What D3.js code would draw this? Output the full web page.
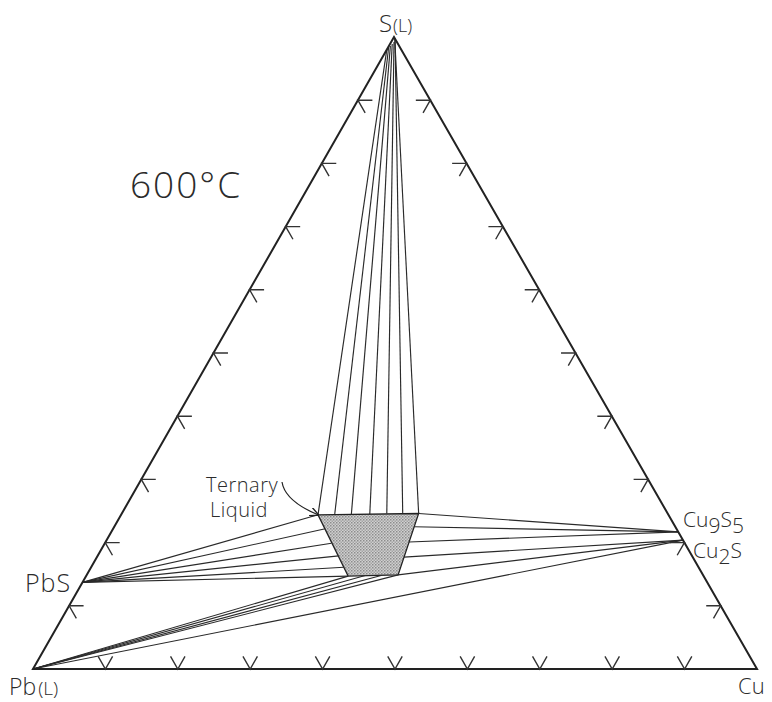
<!DOCTYPE html>
<html>
<head>
<meta charset="utf-8">
<script src="https://cdn.jsdelivr.net/npm/d3@7"></script>
<style>
body { margin: 0; background: #fff; }
svg text { font-family: 'Open Sans', 'DejaVu Sans', sans-serif; font-weight: 300; fill: #2b2b2b; }
</style>
</head>
<body>
<div class="graph-container"></div>
<script>
// all compositions are weight percent, written as [S, Cu]; Pb is the rest
var tickValues = [10, 20, 30, 40, 50, 60, 70, 80, 90];

// phases on the edges
var PbL = [0, 0];
var PbS = [13.7, 0];
var Cu9S5 = [21.7, 78.3];
var Cu2S = [20.4, 79.6];

// corners of the ternary liquid field
var liquidField = [[24.4, 27.2], [24.6, 41.0], [14.9, 43.0], [14.7, 36.2]];

// tie lines S(L) - ternary liquid
var sRichEnds = [[98.0, 0], [98.3, 0.1], [98.6, 0.2], [98.9, 0.3], [99.2, 0.4], [99.5, 0.4], [99.8, 0.2]];
var liquidTopEnds = [[24.4, 27.2], [24.4, 29.5], [24.4, 31.8], [24.5, 34.3], [24.6, 36.6], [24.6, 38.8], [24.6, 41.0]];
// tie lines PbS - liquid
var liquidPbSEnds = [[24.4, 27.2], [22.2, 29.3], [19.9, 31.3], [17.9, 33.3], [16.1, 34.9], [14.7, 36.2]];
// tie lines Cu9S5 / Cu2S - liquid
var liquidCu9S5Ends = [[24.6, 41.0], [22.5, 41.4], [20.1, 41.9]];
var liquidCu2SEnds = [[17.7, 42.4], [14.9, 43.0], [0, 0]];
// tie lines Pb(L) - liquid
var liquidPbEnds = [[14.7, 36.2], [14.8, 38.5], [14.8, 40.7], [14.9, 43.0]];

var svgWidth = 772;
var svgHeight = 702;

// x scale along the Pb-Cu base, y scale for S content
var xScale = d3.scaleLinear().domain([0, 100]).range([33, 757]);
var yScale = d3.scaleLinear().domain([0, 100]).range([669, 37]);
var apexU = xScale.invert(394);

function project(c) {
    return [xScale(c[1] + c[0] * apexU / 100), yScale(c[0])];
}

var line = d3.line().x(function(d) { return project(d)[0]; })
    .y(function(d) { return project(d)[1]; });

var svg = d3.select('.graph-container').append('svg')
    .attr('width', svgWidth)
    .attr('height', svgHeight);

// stippled fill for the liquid field
var defs = svg.append('defs');
var pat = defs.append('pattern')
    .attr('id', 'dots')
    .attr('width', 3).attr('height', 3)
    .attr('patternUnits', 'userSpaceOnUse');
pat.append('rect').attr('width', 3).attr('height', 3).attr('fill', '#d0d0d0');
pat.append('rect').attr('width', 1.5).attr('height', 1.5).attr('fill', '#8c8c8c');
pat.append('rect').attr('x', 1.5).attr('y', 1.5).attr('width', 1.5).attr('height', 1.5).attr('fill', '#a4a4a4');

defs.append('marker')
    .attr('id', 'arrow')
    .attr('viewBox', '0 0 10 10')
    .attr('refX', 9).attr('refY', 5)
    .attr('markerWidth', 9).attr('markerHeight', 9)
    .attr('markerUnits', 'userSpaceOnUse')
    .attr('orient', 'auto')
    .append('path')
    .attr('d', 'M0,0 L10,5 L0,10')
    .attr('fill', 'none')
    .attr('stroke', '#222')
    .attr('stroke-width', 1.6);

svg.append('path')
    .attr('d', line(liquidField) + 'Z')
    .attr('fill', 'url(#dots)')
    .attr('stroke', '#222')
    .attr('stroke-width', 1.3);

// tie lines
var ties = [];
sRichEnds.forEach(function(d, i) { ties.push([d, liquidTopEnds[i]]); });
liquidPbSEnds.forEach(function(d) { ties.push([PbS, d]); });
liquidCu9S5Ends.forEach(function(d) { ties.push([Cu9S5, d]); });
liquidCu2SEnds.forEach(function(d) { ties.push([Cu2S, d]); });
liquidPbEnds.forEach(function(d) { ties.push([PbL, d]); });

svg.selectAll('.tie')
    .data(ties)
    .enter()
    .append('path')
    .attr('class', 'tie')
    .attr('d', line)
    .attr('fill', 'none')
    .attr('stroke', '#2a2a2a')
    .attr('stroke-width', 1.15);

// triangle frame
svg.append('path')
    .attr('d', line([[0, 0], [0, 100], [100, 0]]) + 'Z')
    .attr('fill', 'none')
    .attr('stroke', '#222')
    .attr('stroke-width', 2)
    .attr('stroke-linejoin', 'miter');

// 10% marks on each side, drawn as short grid segments
var marks = [];
tickValues.forEach(function(t) {
    marks.push([[2, t - 2], [0, t], [2, t]]);           // base
    marks.push([[t, 2], [t, 0], [t - 2, 2]]);           // Pb-S side
    marks.push([[t, 98 - t], [t, 100 - t], [t - 2, 100 - t]]); // Cu-S side
});
svg.selectAll('.mark')
    .data(marks)
    .enter()
    .append('path')
    .attr('class', 'mark')
    .attr('d', line)
    .attr('fill', 'none')
    .attr('stroke', '#333')
    .attr('stroke-width', 1.4);

// labels
var sLab = svg.append('text').attr('x', 379).attr('y', 32);
sLab.append('tspan').style('font-size', '24px').text('S');
sLab.append('tspan').style('font-size', '18px').attr('dx', 1).text('(L)');

var pbLab = svg.append('text').attr('x', 9).attr('y', 695);
pbLab.append('tspan').style('font-size', '23px').text('Pb');
pbLab.append('tspan').style('font-size', '19px').attr('dx', 2).text('(L)');

svg.append('text').attr('x', 738).attr('y', 694).style('font-size', '22px').text('Cu');

svg.append('text').attr('x', 25).attr('y', 592).style('font-size', '25px')
    .style('letter-spacing', '1px').text('PbS');

svg.append('text').attr('x', 130).attr('y', 198).style('font-size', '37px')
    .style('letter-spacing', '2px').text('600°C');

var c9 = svg.append('text').attr('x', 683).attr('y', 527).style('font-size', '21px');
c9.append('tspan').text('Cu');
c9.append('tspan').attr('dy', 6).text('9');
c9.append('tspan').attr('dy', -6).text('S');
c9.append('tspan').attr('dy', 6).text('5');

var c2 = svg.append('text').attr('x', 693).attr('y', 558).style('font-size', '21px');
c2.append('tspan').text('Cu');
c2.append('tspan').attr('dy', 6).text('2');
c2.append('tspan').attr('dy', -6).text('S');

svg.append('text').attr('x', 206).attr('y', 492).style('font-size', '20px')
    .style('letter-spacing', '0.5px').text('Ternary');
svg.append('text').attr('x', 210).attr('y', 517).style('font-size', '20px')
    .style('letter-spacing', '0.5px').text('Liquid');

svg.append('path')
    .attr('d', 'M282,482 Q285,501 ' + project(liquidField[0]).join(','))
    .attr('fill', 'none')
    .attr('stroke', '#222')
    .attr('stroke-width', 1.2)
    .attr('marker-end', 'url(#arrow)');
</script>
</body>
</html>
